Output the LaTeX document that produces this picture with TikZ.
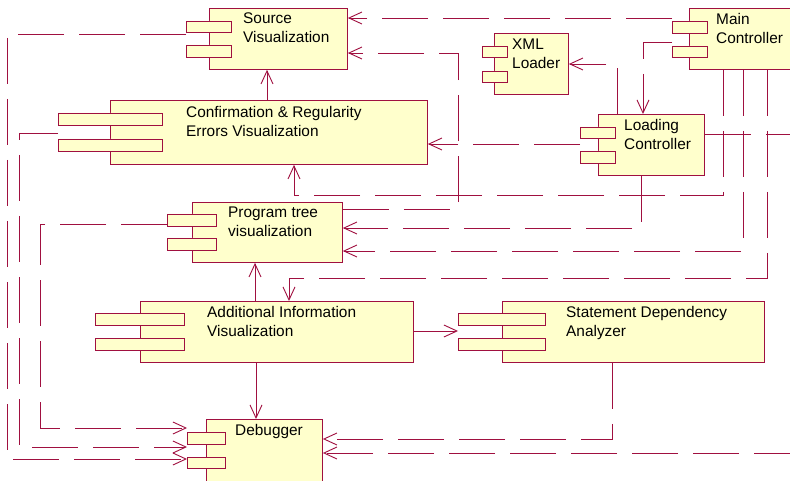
\documentclass[tikz,border=0pt]{standalone}
\usepackage{fontspec}
\setmainfont{Liberation Sans}
\usetikzlibrary{arrows.meta}
\definecolor{ln}{RGB}{160,16,64}
\definecolor{fl}{RGB}{255,255,204}
\tikzset{
  box/.style={draw=ln, fill=fl, line width=0.9pt, inner sep=0pt, anchor=north west},
  port/.style={draw=ln, fill=fl, line width=0.9pt},
  lbl/.style={font=\fontsize{15.4}{19}\selectfont, align=left, inner sep=0pt, anchor=north west},
  conn/.style={draw=ln, line width=0.9pt},
  dep/.style={conn, dash pattern=on 46pt off 15pt},
  arr/.style={-{Straight Barb[length=13pt,width=12pt]}},
}
\begin{document}
\begin{tikzpicture}[x=1pt,y=-1pt]
\useasboundingbox (0,0) rectangle (790,481);
\clip (0,0) rectangle (790,481);
\fill[white] (0,0) rectangle (790,481);

% components
\node[box, minimum width=138pt, minimum height=61pt] (src) at (209,8) {};
\draw[port] (186,21) rectangle (231,32) (186,45) rectangle (231,57);
\node[lbl] (srcT) at (243,12.5) {Source\\Visualization};

\node[box, minimum width=317pt, minimum height=64pt] (cre) at (110,100) {};
\draw[port] (58,113) rectangle (162,125) (58,139) rectangle (162,151);
\node[lbl] (creT) at (186,106.5) {Confirmation \& Regularity\\Errors Visualization};

\node[box, minimum width=150pt, minimum height=60pt] (ptv) at (192,202) {};
\draw[port] (167,214) rectangle (216,226) (167,238) rectangle (216,250);
\node[lbl] (ptvT) at (228,206.5) {Program tree\\visualization};

\node[box, minimum width=273pt, minimum height=61pt] (aiv) at (140,301) {};
\draw[port] (95,313) rectangle (184,325) (95,338) rectangle (184,350);
\node[lbl] (aivT) at (207,306.5) {Additional Information\\Visualization};

\node[box, minimum width=262pt, minimum height=61pt] (sda) at (502,301) {};
\draw[port] (458,313) rectangle (545,325) (458,338) rectangle (545,350);
\node[lbl] (sdaT) at (566,306.5) {Statement Dependency\\Analyzer};

\node[box, minimum width=116pt, minimum height=80pt] (dbg) at (206,419) {};
\draw[port] (187,432) rectangle (225,444) (187,457) rectangle (225,468);
\node[lbl] (dbgT) at (235,424.5) {Debugger};

\node[box, minimum width=74pt, minimum height=61pt] (xml) at (494,33) {};
\draw[port] (482,46) rectangle (507,57) (482,71) rectangle (507,82);
\node[lbl] (xmlT) at (512,38.5) {XML\\Loader};

\node[box, minimum width=120pt, minimum height=61pt] (mc) at (689,8) {};
\draw[port] (672,21) rectangle (707,33) (672,46) rectangle (707,57);
\node[lbl] (mcT) at (716,13.5) {Main\\Controller};

\node[box, minimum width=106pt, minimum height=61pt] (lc) at (598,114) {};
\draw[port] (580,127) rectangle (615,138) (580,151) rectangle (615,163);
\node[lbl] (lcT) at (624,119.5) {Loading\\Controller};

% connectors
\draw[dep, arr] (672,18) -- (src.east |- 0,18);
\draw[dep, arr] (ptv.east |- 0,209) -- (458,209) -- (458,53) -- (src.east |- 0,53);
\draw[conn, arr] (cre.north -| 267,0) -- (src.south -| 267,0);
\draw[dep, arr] (580,144) -- (cre.east |- 0,144);
\draw[dep, arr] (mc.south -| 723,0) -- (723,195) -- (294,195) -- (cre.south -| 294,0);
\draw[dep, arr] (mc.south -| 743,0) -- (743,251) -- (ptv.east |- 0,251);
\draw[dep, arr] (mc.south -| 767,0) -- (767,278) -- (289,278) -- (aiv.north -| 289,0);
\draw[dep] (lc.east |- 0,134) -- (800,134);
\draw[dep, arr] (lc.south -| 641,0) -- (641,228) -- (ptv.east |- 0,228);
\draw[dep, arr] (672,42) -- (643,42) -- (lc.north -| 643,0);
\draw[dep, arr] (lc.north -| 617,0) -- (617,64) -- (xml.east |- 0,64);
\draw[dep, arr] (167,224) -- (40,224) -- (40,428) -- (187,428);
\draw[dep, arr] (58,133) -- (19,133) -- (19,447) -- (187,447);
\draw[dep, arr] (186,34) -- (7,34) -- (7,459) -- (187,459);
\draw[conn, arr] (aiv.south -| 256,0) -- (dbg.north -| 256,0);
\draw[conn, arr] (aiv.east |- 0,331) -- (458,331);
\draw[conn, arr] (aiv.north -| 255,0) -- (ptv.south -| 255,0);
\draw[dep, arr] (sda.south -| 612,0) -- (612,439) -- (dbg.east |- 0,439);
\draw[dep, arr] (800,453) -- (dbg.east |- 0,453);
\end{tikzpicture}
\end{document}
